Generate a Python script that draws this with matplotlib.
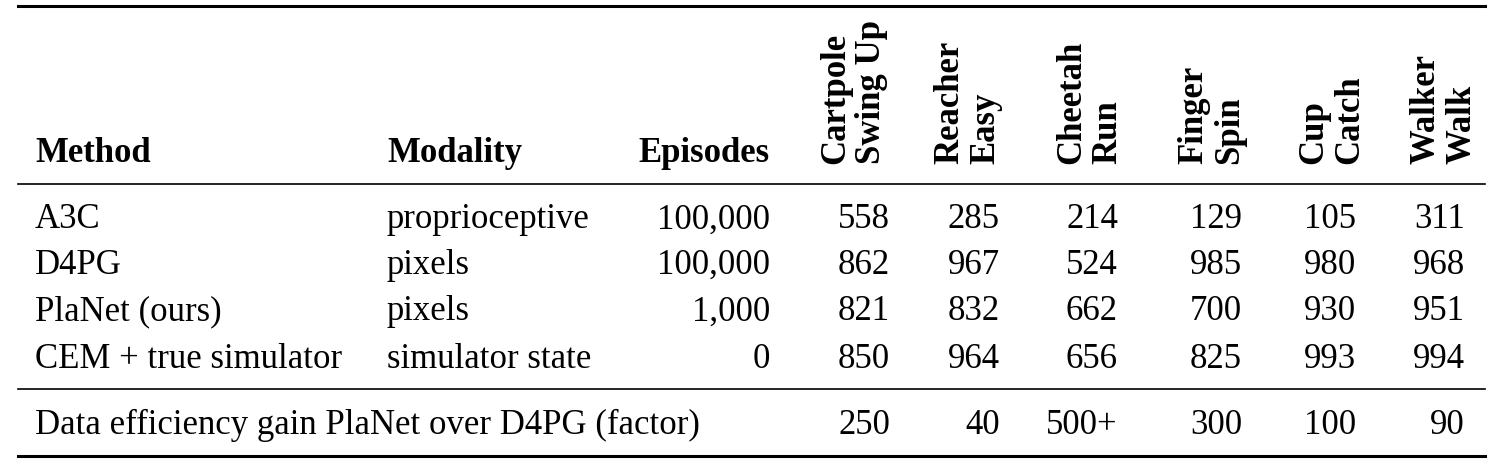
import matplotlib
matplotlib.use("Agg")
import matplotlib.pyplot as plt

methods = ["A3C", "D4PG", "PlaNet (ours)", "CEM + true simulator"]
modalities = ["proprioceptive", "pixels", "pixels", "simulator state"]
episodes = ["100,000", "100,000", "1,000", "0"]
tasks = ["Cartpole\nSwing Up", "Reacher\nEasy", "Cheetah\nRun", "Finger\nSpin", "Cup\nCatch", "Walker\nWalk"]
scores = [
    [558, 285, 214, 129, 105, 311],
    [862, 967, 524, 985, 980, 968],
    [821, 832, 662, 700, 930, 951],
    [850, 964, 656, 825, 993, 994],
]
gain_label = "Data efficiency gain PlaNet over D4PG (factor)"
gains = ["250", "40", "500+", "300", "100", "90"]

W, H = 1506, 469
fig = plt.figure(figsize=(W/100, H/100), dpi=100)
ax = fig.add_axes([0, 0, 1, 1])
ax.set_xlim(0, W); ax.set_ylim(H, 0); ax.axis("off")
plt.rcParams['font.family'] = ['Liberation Serif']
fs = 25

col_right = [890, 1000, 1118, 1242, 1356, 1465]
head_x = [854, 968, 1090, 1212, 1332, 1444]
row_y = [220, 265, 312, 359]

ax.plot([18, 1485], [6, 6], color="black", lw=2.2)
ax.plot([18, 1485], [184, 184], color="black", lw=1.2)
ax.plot([18, 1485], [389, 389], color="black", lw=1.2)
ax.plot([18, 1485], [456, 456], color="black", lw=2.2)

hy = 162
ax.text(35, hy, "Method", fontsize=fs, weight="bold", va="baseline", ha="left")
ax.text(387, hy, "Modality", fontsize=fs, weight="bold", va="baseline", ha="left")
ax.text(770, hy, "Episodes", fontsize=fs, weight="bold", va="baseline", ha="right")
for x, t in zip(head_x, tasks):
    ax.text(x, 164, t, fontsize=fs, weight="bold", rotation=90, ha="center", va="bottom",
            multialignment="left", linespacing=1.1)

for i, y in enumerate(row_y):
    ax.text(35, y, methods[i], fontsize=fs, va="center", ha="left")
    ax.text(387, y, modalities[i], fontsize=fs, va="center", ha="left")
    ax.text(770, y, episodes[i], fontsize=fs, va="center", ha="right")
    for x, v in zip(col_right, scores[i]):
        ax.text(x, y, str(v), fontsize=fs, va="center", ha="right")

gy = 425
ax.text(35, gy, gain_label, fontsize=fs, va="center", ha="left")
for x, g in zip(col_right, gains):
    ax.text(x, gy, g, fontsize=fs, va="center", ha="right")

fig.savefig("out.png", dpi=100)
